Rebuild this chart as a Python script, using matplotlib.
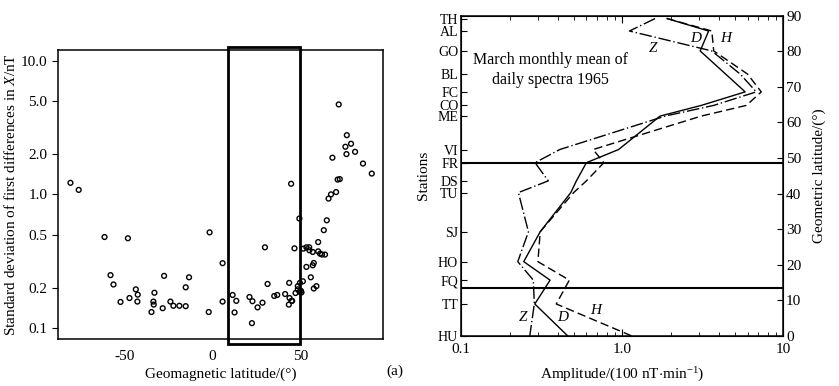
import numpy as np
import matplotlib
matplotlib.use('Agg')
import matplotlib.pyplot as plt
from matplotlib.patches import Rectangle
from matplotlib.ticker import FixedLocator, NullFormatter, NullLocator

plt.rcParams['font.family'] = ['Liberation Serif', 'DejaVu Serif']
plt.rcParams['mathtext.fontset'] = 'custom'
plt.rcParams['mathtext.rm'] = 'Liberation Serif'
plt.rcParams['mathtext.it'] = 'Liberation Serif:italic'

# (a) standard deviation of first differences vs geomagnetic latitude
geomag_lat = [-80.9, -76.2, -61.5, -48.2, -1.7, 44.7, 49.4, 71.8, 76.4, 78.8,
              75.6, 76.2, 81.1, 68.2, 85.6, 90.6, 71.2, 72.4, 70.3, 67.4,
              66.0, 65.0, 63.3, -58.1, -56.4, -52.4, -47.3, -43.7, -42.6, -42.8,
              -34.8, -33.7, -33.5, -33.1, -27.6, -28.4, -24.0, -22.3, -18.9, -15.3,
              -15.3, -13.4, -2.2, 5.7, 5.7, 11.4, 12.5, 13.5, 21.0, 22.7,
              22.4, 25.6, 28.4, 29.8, 31.3, 35.1, 36.8, 41.3, 43.6, 43.4,
              43.8, 44.9, 45.3, 46.6, 47.2, 48.5, 48.5, 49.5, 50.6, 50.3,
              49.7, 51.4, 51.7, 53.4, 55.0, 55.1, 57.0, 60.1, 60.1, 61.2,
              62.3, 64.0, 53.4, 57.0, 57.6, 55.9, 57.6, 59.1]
std_dev = [1.22, 1.08, 0.48, 0.47, 0.52, 1.20, 0.66, 4.7, 2.77, 2.39,
           2.27, 2.0, 2.08, 1.88, 1.70, 1.43, 1.29, 1.30, 1.04, 1.0,
           0.93, 0.64, 0.54, 0.249, 0.212, 0.157, 0.168, 0.195, 0.178, 0.158,
           0.132, 0.158, 0.150, 0.184, 0.246, 0.141, 0.158, 0.147, 0.147, 0.146,
           0.202, 0.24, 0.132, 0.306, 0.158, 0.177, 0.131, 0.160, 0.171, 0.159,
           0.109, 0.143, 0.155, 0.402, 0.214, 0.174, 0.177, 0.180, 0.218, 0.150,
           0.168, 0.160, 0.160, 0.395, 0.183, 0.206, 0.195, 0.187, 0.185, 0.190,
           0.218, 0.224, 0.393, 0.402, 0.402, 0.382, 0.371, 0.44, 0.375, 0.36,
           0.355, 0.355, 0.287, 0.295, 0.307, 0.24, 0.198, 0.206]
y_ticks_a = [0.1, 0.2, 0.5, 1.0, 2.0, 5.0, 10.0]

# (b) spectral amplitude vs station latitude
stations = ['TH', 'AL', 'GO', 'BL', 'FC', 'CO', 'ME', 'VI', 'FR', 'DS', 'TU',
            'SJ', 'HO', 'FQ', 'TT', 'HU']
station_lat = [89.2, 85.7, 80.1, 73.6, 68.6, 64.8, 61.8, 52.4, 48.7, 43.6, 40.3,
               29.3, 20.9, 15.7, 9.0, 0.0]
amp_H = [1.9, 3.6, 3.7, 6.0, 7.3, 5.9, 3.1, 0.66, 0.77, 0.6, 0.5,
         0.31, 0.30, 0.47, 0.39, 1.15]
D_stations = ['TH', 'AL', 'GO', 'FC', 'CO', 'ME', 'VI', 'FR', 'DS', 'TU',
              'SJ', 'HO', 'FQ', 'TT', 'HU']
amp_D = [1.9, 3.44, 3.05, 5.8, 3.1, 1.72, 0.95, 0.60, 0.52, 0.48,
         0.31, 0.245, 0.357, 0.287, 0.46]
amp_Z = [1.6, 1.11, 3.6, 5.4, 6.8, 3.7, 1.85, 0.41, 0.288, 0.348, 0.227,
         0.262, 0.225, 0.281, 0.285, 0.267]
boundary_lat = [48.7, 13.6]

fig = plt.figure(figsize=(8.39, 3.86), dpi=100)

# ---- panel (a) ----
ax1 = fig.add_axes([0.0691, 0.1218, 0.3874, 0.7487])
ax1.scatter(geomag_lat, std_dev, s=12, facecolors='none', edgecolors='black', linewidths=1.0)
ax1.set_yscale('log')
ax1.set_xlim(-88, 97)
ax1.set_ylim(0.083, 12.0)
ax1.yaxis.set_major_locator(FixedLocator(y_ticks_a))
ax1.yaxis.set_minor_locator(NullLocator())
ax1.set_yticklabels(['%.1f' % v for v in y_ticks_a])
ax1.set_xticks([-50, 0, 50])
ax1.set_xticklabels(['-50', '0', '50'])
ax1.tick_params(axis='both', direction='out', length=4, labelsize=11)
ax1.tick_params(axis='x', length=0, pad=8)
ax1.set_xlabel('Geomagnetic latitude/(°)', fontsize=11, labelpad=3)
ax1.set_ylabel('Standard deviation of first differences in $X$/nT', fontsize=11, labelpad=2)
for sp in ax1.spines.values():
    sp.set_linewidth(1.1)
ax1.add_patch(Rectangle((8.5, 0.076), 41.2, 12.6 - 0.076, fill=False, lw=2.0,
                        edgecolor='black', clip_on=False, zorder=3))
fig.text(0.461, 0.03, '(a)', fontsize=11)

# ---- panel (b) ----
ax2 = fig.add_axes([0.5495, 0.1295, 0.3841, 0.8298])
lat_of = dict(zip(stations, station_lat))
ax2.plot(amp_H, station_lat, color='black', lw=1.0, linestyle=(0, (6, 3)))
ax2.plot(amp_D, [lat_of[s] for s in D_stations], color='black', lw=1.0, linestyle='-')
ax2.plot(amp_Z, station_lat, color='black', lw=1.0, linestyle=(0, (9, 2, 1, 2)))
for b in boundary_lat:
    ax2.axhline(b, color='black', lw=1.5)
ax2.set_xscale('log')
ax2.set_xlim(0.1, 10)
ax2.set_ylim(0, 90)
ax2.set_xticks([0.1, 1.0, 10])
ax2.set_xticklabels(['0.1', '1.0', '10'])
ax2.xaxis.set_minor_formatter(NullFormatter())
ax2.set_yticks(station_lat)
ax2.set_yticklabels(stations)
ax2.tick_params(axis='both', which='both', direction='in', top=True, labelsize=11)
ax2.tick_params(axis='x', which='major', length=5, pad=5)
ax2.tick_params(axis='x', which='minor', length=3)
ax2.tick_params(axis='y', length=4, pad=2, labelsize=10)
ax2.set_xlabel('Amplitude/(100 nT$\\cdot$min$^{-1}$)', fontsize=11, labelpad=7)
ax2.set_ylabel('Stations', fontsize=11, labelpad=5)
for sp in ax2.spines.values():
    sp.set_linewidth(1.1)

ax3 = ax2.twinx()
ax3.set_ylim(0, 90)
ax3.set_yticks(np.arange(0, 91, 10))
ax3.tick_params(axis='y', direction='in', length=4, labelsize=11, pad=2)
ax3.set_ylabel('Geometric latitude/(°)', fontsize=11, labelpad=8)

ax2.text(0.357, 74.7, 'March monthly mean of\ndaily spectra 1965', ha='center', va='center',
         fontsize=11.5, linespacing=1.35)
lbl = dict(fontsize=11, style='italic', ha='center', va='center')
ax2.text(2.84, 83.7, 'D', **lbl)
ax2.text(4.4, 83.7, 'H', **lbl)
ax2.text(1.56, 80.9, 'Z', **lbl)
ax2.text(0.243, 5.2, 'Z', **lbl)
ax2.text(0.43, 5.2, 'D', **lbl)
ax2.text(0.68, 7.3, 'H', **lbl)

fig.savefig('out.png', dpi=100)
